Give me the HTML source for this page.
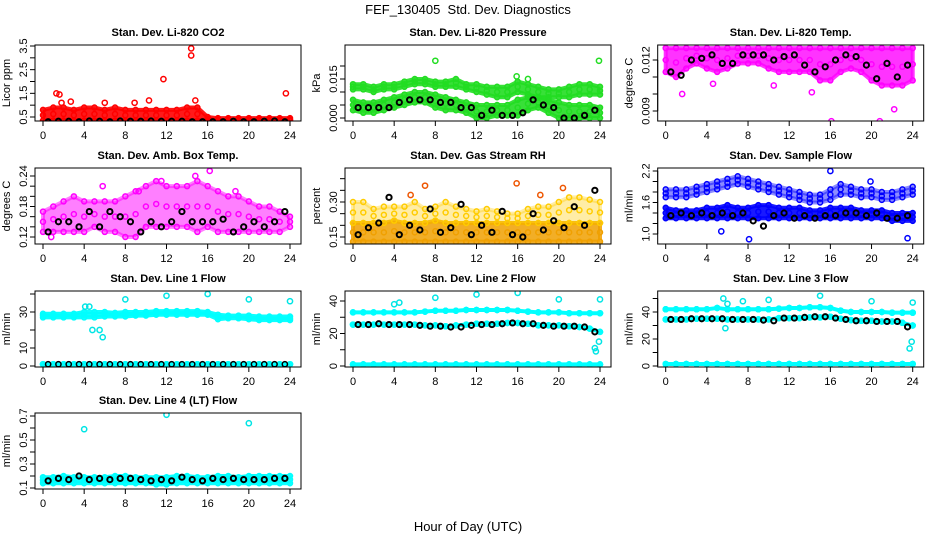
<!DOCTYPE html>
<html><head><meta charset="utf-8"><style>
body{margin:0;background:#fff;}
svg{display:block;font-family:"Liberation Sans",sans-serif;}
</style></head><body>
<svg id="chart" width="936" height="540" xmlns="http://www.w3.org/2000/svg">
<rect width="936" height="540" fill="#fff"/>
<text x="468" y="14" text-anchor="middle" font-size="13" xml:space="preserve">FEF_130405  Std. Dev. Diagnostics</text>
<text x="468" y="531" text-anchor="middle" font-size="13">Hour of Day (UTC)</text>
</svg>
<script>
const H=[0,1,2,3,4,5,6,7,8,9,10,11,12,13,14,15,16,17,18,19,20,21,22,23,24];
const BT=[0.5,1.5,2.5,3.5,4.5,5.5,6.5,7.5,8.5,9.5,10.5,11.5,12.5,13.5,14.5,15.5,16.5,17.5,18.5,19.5,20.5,21.5,22.5,23.5];
const xTicks=[0,4,8,12,16,20,24];
// CO2
const co2Lo=[.35,.35,.35,.35,.35,.35,.35,.35,.35,.35,.35,.35,.35,.35,.35,.35,.35,.35,.35,.35,.35,.35,.35,.35,.35];
const co2Hi=[.8,.9,.9,.8,.9,.9,.8,.9,.8,.8,.8,.8,.8,.8,.9,.9,.5,.45,.45,.45,.45,.45,.45,.45,.45];
const co2Black=[.30,.32,.32,.30,.33,.32,.30,.33,.32,.32,.33,.32,.32,.32,.30,.30,.30,.30,.32,.30,.30,.32,.33,.30];
const co2OutX=[1.3,1.6,1.8,2.7,6,8.9,10.3,11.7,14.4,14.4,14.8,23.6];
const co2OutY=[1.5,1.45,1.1,1.15,1.1,1.1,1.2,2.1,3.4,3.1,1.2,1.5];
// Pressure
const prLo=[.003,.002,.002,.003,.004,.005,.006,.006,.004,.003,.003,.002,0,0,.001,.001,.001,.003,.004,.002,0,0,0,0,0];
const prLoHi=[.007,.006,.006,.007,.008,.009,.010,.010,.009,.008,.007,.006,.005,.005,.005,.005,.007,.008,.008,.007,.006,.005,.005,.005,.004];
const prUpLo=[.011,.011,.010,.011,.011,.012,.013,.013,.012,.012,.012,.011,.010,.009,.008,.008,.010,.009,.008,.008,.008,.008,.009,.009,.009];
const prHi=[.013,.013,.012,.013,.013,.014,.015,.015,.014,.014,.015,.013,.013,.012,.012,.012,.014,.013,.012,.011,.011,.012,.013,.013,.012];
const prBlack=[.004,.004,.004,.004,.006,.007,.007,.007,.006,.006,.004,.004,.001,.003,.001,.001,.002,.007,.005,.004,0,0,.001,.003];
const prOutX=[8,23.9,15.9,17];
const prOutY=[.022,.022,.016,.015];
// Li-820 temp
const tpLo=[.0113,.0110,.0115,.0118,.0115,.0113,.0115,.0118,.0118,.0118,.0115,.0113,.0113,.0113,.0113,.0108,.0108,.0113,.0115,.0113,.0108,.0105,.0105,.0105,.0108];
const tpHi=[.0127,.0127,.0127,.0127,.0127,.0127,.0127,.0127,.0127,.0127,.0127,.0127,.0127,.0127,.0127,.0127,.0127,.0127,.0127,.0127,.0127,.0127,.0127,.0127,.0127];
const tpBlack=[.0113,.0111,.0120,.0121,.0123,.0118,.0118,.0123,.0123,.0123,.0120,.0122,.0123,.0117,.0113,.0116,.0120,.0123,.0122,.0117,.0109,.0118,.0110,.0117];
const tpOutX=[1.6,4.6,6.3,10.5,14.2,16.1,20.8,22.2];
const tpOutY=[.0100,.0106,.0131,.0105,.0101,.0084,.0084,.0091];
// Amb box temp
const abLo=[.13,.13,.13,.13,.13,.14,.13,.13,.12,.12,.14,.14,.14,.14,.14,.13,.14,.13,.13,.13,.13,.13,.13,.13,.14];
const abHi=[.17,.18,.19,.20,.19,.19,.19,.19,.20,.21,.22,.23,.22,.22,.22,.23,.22,.21,.20,.20,.19,.18,.18,.17,.16];
const abBlack=[.13,.15,.15,.14,.17,.14,.17,.16,.15,.13,.15,.14,.15,.17,.15,.15,.15,.155,.13,.14,.15,.14,.15,.17];
const abOutX=[5.8,9.3,11.5,14.8,16.2,18.7,0.8];
const abOutY=[.22,.21,.23,.24,.25,.21,.12];
// RH
const rhLo=[.13,.13,.13,.13,.13,.13,.13,.13,.13,.13,.13,.13,.13,.13,.13,.13,.13,.13,.13,.13,.13,.13,.13,.13,.13];
const rhMid=[.21,.21,.21,.21,.22,.21,.21,.21,.22,.21,.21,.21,.21,.21,.21,.21,.21,.21,.21,.21,.21,.21,.21,.21,.21];
const rhHi=[.30,.30,.27,.28,.28,.28,.30,.27,.28,.30,.28,.27,.26,.27,.26,.25,.25,.27,.28,.28,.30,.32,.32,.31,.30];
const rhBlack=[.16,.19,.21,.32,.16,.20,.18,.27,.17,.19,.29,.16,.20,.17,.26,.16,.15,.25,.18,.22,.19,.28,.20,.35];
const rhOutX=[5.6,7,15.9,18.2,20.4];
const rhOutY=[.33,.37,.38,.33,.36];
// Sample flow
const sfLoLo=[1.3,1.3,1.3,1.3,1.3,1.3,1.3,1.3,1.3,1.3,1.3,1.3,1.3,1.3,1.3,1.3,1.3,1.3,1.3,1.3,1.3,1.3,1.25,1.25,1.25];
const sfLoHi=[1.5,1.45,1.45,1.45,1.5,1.5,1.55,1.5,1.5,1.55,1.55,1.5,1.5,1.5,1.45,1.45,1.5,1.5,1.5,1.45,1.45,1.45,1.4,1.4,1.4];
const sfUpLo=[1.7,1.7,1.7,1.75,1.8,1.85,1.9,1.95,1.9,1.85,1.8,1.75,1.7,1.65,1.6,1.6,1.65,1.75,1.75,1.7,1.7,1.65,1.65,1.7,1.75];
const sfUpHi=[1.85,1.85,1.85,1.9,1.95,2.0,2.05,2.1,2.05,2.0,1.95,1.9,1.85,1.8,1.75,1.75,1.85,1.95,1.9,1.85,1.85,1.8,1.8,1.85,1.9];
const sfBlack=[1.35,1.4,1.35,1.4,1.35,1.4,1.35,1.4,1.25,1.15,1.35,1.4,1.3,1.35,1.3,1.35,1.35,1.4,1.4,1.35,1.4,1.3,1.3,1.35];
const sfOutX=[8.1,5.4,16,19.9,23.5];
const sfOutY=[0.9,1.05,2.2,2.0,0.92];
// Line 1
const l1Lo=[27,27,27,27,27,27,27.5,27.5,27.5,28,28,28.5,28.5,28.5,28.5,28.5,28.5,26,26.5,26.5,26,25.5,25.5,25.5,25.5];
const l1Hi=[29,29,29,29,30,30,30,29.5,30,30,30,30.5,30.5,30.5,30.5,30.5,30,28.5,28,28,28,27.5,27.5,27.5,27.5];
const l1Base=[1,1,1,1,1,1,1,1,1,1,1,1,1,1,1,1,1,1,1,1,1,1,1,1,1];
const l1Black=[1,1,1,1,1,1,1,1,1,1,1,1,1,1,1,1,1,1,1,1,1,1,1,1];
const l1OutX=[4.1,4.5,4.8,5.5,5.8,8,12,16,20,24];
const l1OutY=[33,33,20,20,16,37,39,40,37,36];
// Line 2
const l2Up=[33,33,33,33,33,33,33,33.5,34,34,34,34.5,34.5,34.5,34.5,34.5,34,33.5,33,33,33,32.5,32.5,32.5,32.5];
const l2Mid=[25.5,25.5,25.5,25.5,25.5,25.5,25.5,25,25,24.5,25,25.5,26,26,26,26.5,26.5,26,25,25,25,24.5,24,23,21];
const l2Base=[1,1,1,1,1,1,1,1,1,1,1,1,1,1,1,1,1,1,1,1,1,1,1,1,1];
const l2Black=[25.5,25.5,26,25.5,25.5,25.5,25,24.5,24.5,24,24,25,25.5,25.5,26,26.5,26,26,25,24.5,24.5,24.5,24,21];
const l2OutX=[4,4.5,8,12,16,20,24,23.5,23.6,23.9];
const l2OutY=[38,39,42,44,45,41,41,11,9,15];
// Line 3
const l3Up=[42,42,42,42,42,43,42,42,42,42,42,42.5,43,43,43.5,43.5,43,41,40,40,40,40,39.5,39.5,39.5];
const l3Mid=[34.5,34.5,34.5,35,35,35,34.5,34.5,34.5,34.5,34.5,35.5,35.5,35.5,36,36,36.5,35,34,33.5,33.5,33,33,32,30];
const l3Base=[1.5,1.5,1.5,1.5,1.5,1.5,1.5,1.5,1.5,1.5,1.5,1.5,1.5,1.5,1.5,1.5,1.5,1.5,1.5,1.5,1.5,1.5,1.5,1.5,1.5];
const l3Black=[34.5,34.5,35,35,35,35,34.5,34.5,34.5,34,33.5,35.5,35.5,36,36.5,36.5,35.5,34.5,33.5,33.5,33,33,33,29];
const l3OutX=[5.6,6,7.5,10,15,20,24,23.7,23.9,5.8];
const l3OutY=[50,46,48,49,52,48,47,13,18,28];
// Line 4
const l4Lo=[.14,.14,.14,.14,.14,.14,.14,.14,.14,.14,.14,.13,.13,.14,.14,.14,.14,.14,.14,.14,.14,.14,.14,.14,.14];
const l4Hi=[.19,.19,.2,.19,.19,.19,.19,.2,.2,.19,.19,.19,.19,.2,.2,.19,.19,.2,.2,.19,.2,.2,.2,.2,.2];
const l4Black=[.16,.18,.17,.2,.17,.18,.17,.18,.18,.17,.16,.17,.16,.19,.17,.16,.18,.17,.18,.17,.17,.17,.18,.18];
const l4OutX=[4,12,20];
const l4OutY=[.59,.71,.64];

const NS="http://www.w3.org/2000/svg";
const svg=document.getElementById('chart');
function mk(tag,attrs,parent){const e=document.createElementNS(NS,tag);for(const k in attrs)e.setAttribute(k,attrs[k]);(parent||svg).appendChild(e);return e;}
const colLeft=[35,345,657.7],rowTop=[45,168,291,413],BW=266,BH=76;

function panel(name,c,r,title,ylab,yt,ylabVals,ylabFmt,a1,p1,a2,p2){
  const L=colLeft[c],T=rowTop[r];
  const g=mk('g',{});
  
  
  const xs=v=>L+8+v*(BW-19)/24;
  const ys=v=>p1+(v-a1)*(p2-p1)/(a2-a1);
  const t=mk('text',{x:L+BW/2,y:T-9,'text-anchor':'middle','font-size':11,'font-weight':'bold'},g);
  t.textContent=title;
  
  
  const yl=mk('text',{x:0,y:0,'text-anchor':'middle','font-size':11,transform:`translate(${L-25},${T+BH/2}) rotate(-90)`},g);
  yl.textContent=ylab;
  
  
  const xa=mk('g',{},g);
  
  
  mk('line',{x1:xs(0),x2:xs(24),y1:T+BH,y2:T+BH,stroke:'#000'},xa);
  xTicks.forEach(v=>{mk('line',{x1:xs(v),x2:xs(v),y1:T+BH,y2:T+BH+5,stroke:'#000'},xa);
    const tx=mk('text',{x:xs(v),y:T+BH+18,'text-anchor':'middle','font-size':11},xa);tx.textContent=v;});
  const ya=mk('g',{},g);
  
  
  mk('line',{x1:L,x2:L,y1:ys(yt[0]),y2:ys(yt[yt.length-1]),stroke:'#000'},ya);
  yt.forEach(v=>{mk('line',{x1:L-5,x2:L,y1:ys(v),y2:ys(v),stroke:'#000'},ya);});
  ylabVals.forEach(v=>{const tx=mk('text',{x:0,y:0,'text-anchor':'middle','font-size':11,transform:`translate(${L-8},${ys(v)}) rotate(-90)`},ya);tx.textContent=v.toFixed(ylabFmt);});
  const clipId='clip'+name;
  const cp=mk('clipPath',{id:clipId},g);mk('rect',{x:L,y:T,width:BW,height:BH},cp);
  const plot=mk('g',{'clip-path':`url(#${clipId})`},g);
  mk('rect',{x:L,y:T,width:BW,height:BH,fill:'none',stroke:'#000'},g);
  return {xs,ys,plot};
}
function band(P,name,lo,hi,color,op){
  let pts=H.map((h,i)=>P.xs(h)+','+P.ys(hi[i]));
  pts=pts.concat(H.slice().reverse().map((h,j)=>{const i=H.length-1-j;return P.xs(h)+','+P.ys(lo[i]);}));
  const pg=mk('polygon',{points:pts.join(' '),fill:color,'fill-opacity':op,stroke:color,'stroke-width':4,'stroke-linejoin':'round','stroke-opacity':op},P.plot);
  
  
  H.forEach((h,i)=>{[lo[i],hi[i],(lo[i]+hi[i])/2].forEach(v=>{
    const c=mk('circle',{cx:P.xs(h),cy:P.ys(v),r:2.5,fill:'none',stroke:color,'stroke-width':1.5},P.plot);
    
    });});
}
function pts(P,name,X,Y,color,sw){
  X.forEach((x,i)=>{const c=mk('circle',{cx:P.xs(x),cy:P.ys(Y[i]),r:2.6,fill:'none',stroke:color,'stroke-width':sw},P.plot);
    
    });
}
let P;
P=panel('co2',0,0,'Stan. Dev. Li-820 CO2','Licor ppm',[.5,1,1.5,2,2.5,3,3.5],[.5,1.5,2.5,3.5],1,.5,117,3.5,46);
band(P,'co2-band',co2Lo,co2Hi,'#ff0000',0.9);pts(P,'co2-outlier',co2OutX,co2OutY,'#ff0000',1.5);pts(P,'co2-black-point',BT,co2Black,'#000',2);
P=panel('pressure',1,0,'Stan. Dev. Li-820 Pressure','kPa',[0,.005,.01,.015,.02],[0,.015],3,0,118,.015,79);
band(P,'pressure-low-band',prLo,prLoHi,'#22dd22',0.9);band(P,'pressure-high-band',prUpLo,prHi,'#22dd22',0.9);pts(P,'pressure-outlier',prOutX,prOutY,'#22dd22',1.5);pts(P,'pressure-black-point',BT,prBlack,'#000',2);
P=panel('temp',2,0,'Stan. Dev. Li-820 Temp.','degrees C',[.009,.010,.011,.012],[.009,.012],3,.012,60,.009,111);
band(P,'temp-band',tpLo,tpHi,'#ff00ff',0.8);pts(P,'temp-outlier',tpOutX,tpOutY,'#ff00ff',1.5);pts(P,'temp-black-point',BT,tpBlack,'#000',2);
P=panel('ambbox',0,1,'Stan. Dev. Amb. Box Temp.','degrees C',[.12,.14,.16,.18,.2,.22,.24],[.12,.18,.24],2,.12,237,.24,176);
band(P,'ambbox-band',abLo,abHi,'#ff00ff',0.5);pts(P,'ambbox-outlier',abOutX,abOutY,'#ff00ff',1.5);pts(P,'ambbox-black-point',BT,abBlack,'#000',2);
P=panel('rh',1,1,'Stan. Dev. Gas Stream RH','percent',[.15,.2,.25,.3,.35,.4],[.15,.30],2,.15,237,.30,202);
band(P,'rh-dense-band',rhLo,rhMid,'#f0a000',0.85);band(P,'rh-sparse-band',rhMid,rhHi,'#ffcc00',0.35);pts(P,'rh-outlier',rhOutX,rhOutY,'#ee5500',1.5);pts(P,'rh-black-point',BT,rhBlack,'#000',2);
P=panel('sampleflow',2,1,'Stan. Dev. Sample Flow','ml/min',[1,1.2,1.4,1.6,1.8,2,2.2],[1,1.6,2.2],1,1,234,2.2,171);
band(P,'sampleflow-low-band',sfLoLo,sfLoHi,'#0000ff',0.9);band(P,'sampleflow-high-band',sfUpLo,sfUpHi,'#0000ff',0.45);pts(P,'sampleflow-outlier',sfOutX,sfOutY,'#0000ff',1.5);pts(P,'sampleflow-black-point',BT,sfBlack,'#000',2);
P=panel('line1',0,2,'Stan. Dev. Line 1 Flow','ml/min',[0,10,20,30,40],[0,10,30],0,0,366,30,312);
band(P,'line1-band',l1Lo,l1Hi,'#00ffff',0.95);band(P,'line1-base',l1Base,l1Base,'#00ffff',1);pts(P,'line1-outlier',l1OutX,l1OutY,'#00e5e5',1.5);pts(P,'line1-black-point',BT,l1Black,'#000',1.5);
P=panel('line2',1,2,'Stan. Dev. Line 2 Flow','ml/min',[0,10,20,30,40],[0,20,40],0,0,366,40,301);
band(P,'line2-upper-band',l2Up,l2Up,'#00ffff',1);band(P,'line2-mid-band',l2Mid,l2Mid,'#00ffff',1);band(P,'line2-base',l2Base,l2Base,'#00ffff',1);pts(P,'line2-outlier',l2OutX,l2OutY,'#00e5e5',1.5);pts(P,'line2-black-point',BT,l2Black,'#000',2);
P=panel('line3',2,2,'Stan. Dev. Line 3 Flow','ml/min',[0,10,20,30,40,50],[0,20,40],0,0,366,40,312);
band(P,'line3-upper-band',l3Up,l3Up,'#00ffff',1);band(P,'line3-mid-band',l3Mid,l3Mid,'#00ffff',1);band(P,'line3-base',l3Base,l3Base,'#00ffff',1);pts(P,'line3-outlier',l3OutX,l3OutY,'#00e5e5',1.5);pts(P,'line3-black-point',BT,l3Black,'#000',2);
P=panel('line4',0,3,'Stan. Dev. Line 4 (LT) Flow','ml/min',[.1,.2,.3,.4,.5,.6,.7],[.1,.3,.5,.7],1,.1,488,.7,416);
band(P,'line4-band',l4Lo,l4Hi,'#00ffff',0.95);pts(P,'line4-outlier',l4OutX,l4OutY,'#00e5e5',1.5);pts(P,'line4-black-point',BT,l4Black,'#000',2);
</script>
</body></html>
